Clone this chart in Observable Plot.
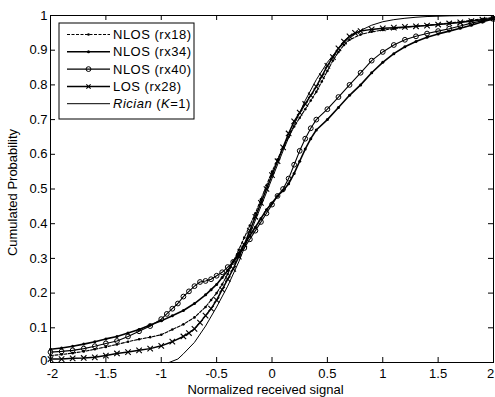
<!DOCTYPE html>
<html>
<head>
<meta charset="utf-8">
<script src="https://cdn.jsdelivr.net/npm/d3@7"></script>
<script src="https://cdn.jsdelivr.net/npm/@observablehq/plot@0.6"></script>
<style>
  html, body { margin: 0; padding: 0; background: #fff; }
  #chart { width: 495px; height: 397px; }
  svg { font-family: "Liberation Sans", Arial, sans-serif; }
</style>
</head>
<body>
<div id="chart"></div>
<script>
// ---- data ----
const xTicks = [-2, -1.5, -1, -0.5, 0, 0.5, 1, 1.5, 2];
const yTicks = [0, 0.1, 0.2, 0.3, 0.4, 0.5, 0.6, 0.7, 0.8, 0.9, 1];
const seriesNames = ["NLOS (rx18)", "NLOS (rx34)", "NLOS (rx40)", "LOS (rx28)", "Rician (K=1)"];

const rx18X = [-2,-1.9,-1.8,-1.7,-1.6,-1.5,-1.4,-1.3,-1.2,-1.1,-1.0,-0.9,-0.8,-0.7,-0.6,-0.55,-0.5,-0.45,-0.4,-0.35,-0.3,-0.25,-0.2,-0.15,-0.1,-0.05,0,0.05,0.1,0.15,0.2,0.25,0.3,0.35,0.4,0.45,0.5,0.55,0.6,0.65,0.7,0.8,0.9,1.0,1.1,1.2,1.4,1.6,1.8,2.0];
const rx18P = [0.02,0.023,0.027,0.032,0.038,0.045,0.052,0.06,0.067,0.073,0.08,0.095,0.11,0.13,0.16,0.18,0.2,0.225,0.255,0.29,0.325,0.36,0.395,0.43,0.47,0.51,0.55,0.585,0.62,0.65,0.68,0.705,0.73,0.755,0.78,0.81,0.84,0.87,0.895,0.915,0.93,0.945,0.953,0.958,0.962,0.966,0.972,0.978,0.986,0.995];

const rx34X = [-2,-1.9,-1.8,-1.7,-1.6,-1.5,-1.4,-1.3,-1.2,-1.1,-1.0,-0.9,-0.8,-0.7,-0.6,-0.55,-0.5,-0.45,-0.4,-0.35,-0.3,-0.25,-0.2,-0.15,-0.1,-0.05,0,0.05,0.1,0.15,0.2,0.25,0.3,0.35,0.4,0.5,0.6,0.7,0.8,0.9,1.0,1.1,1.2,1.3,1.4,1.5,1.6,1.7,1.8,1.9,2.0];
const rx34P = [0.038,0.042,0.047,0.053,0.06,0.068,0.075,0.085,0.095,0.108,0.12,0.135,0.15,0.17,0.195,0.21,0.225,0.245,0.265,0.29,0.315,0.34,0.365,0.39,0.415,0.44,0.46,0.48,0.495,0.515,0.545,0.58,0.615,0.645,0.67,0.70,0.735,0.77,0.80,0.835,0.865,0.89,0.91,0.925,0.937,0.947,0.955,0.963,0.972,0.982,0.99];

const rx40X = [-2,-1.9,-1.8,-1.7,-1.6,-1.5,-1.4,-1.3,-1.2,-1.1,-1.0,-0.95,-0.9,-0.85,-0.8,-0.75,-0.7,-0.65,-0.6,-0.55,-0.5,-0.45,-0.4,-0.35,-0.3,-0.25,-0.2,-0.15,-0.1,-0.05,0,0.05,0.1,0.15,0.2,0.25,0.3,0.35,0.4,0.5,0.6,0.7,0.8,0.9,1.0,1.1,1.2,1.3,1.4,1.5,1.6,1.7,1.8,1.9,2.0];
const rx40P = [0.03,0.032,0.035,0.04,0.047,0.055,0.062,0.075,0.09,0.105,0.125,0.14,0.155,0.17,0.19,0.205,0.22,0.232,0.235,0.24,0.25,0.26,0.275,0.29,0.31,0.33,0.355,0.38,0.405,0.43,0.455,0.48,0.5,0.53,0.57,0.61,0.645,0.675,0.70,0.73,0.765,0.80,0.835,0.87,0.895,0.915,0.93,0.94,0.948,0.955,0.962,0.97,0.978,0.985,0.99];

const losX = [-2,-1.9,-1.8,-1.7,-1.6,-1.5,-1.4,-1.3,-1.2,-1.1,-1.0,-0.9,-0.8,-0.75,-0.7,-0.65,-0.6,-0.55,-0.5,-0.45,-0.4,-0.35,-0.3,-0.25,-0.2,-0.15,-0.1,-0.05,0,0.05,0.1,0.15,0.2,0.25,0.3,0.35,0.4,0.45,0.5,0.55,0.6,0.65,0.7,0.75,0.8,0.9,1.0,1.1,1.2,1.3,1.4,1.5,1.6,1.7,1.8,1.9,2.0];
const losP = [0.01,0.01,0.012,0.013,0.015,0.02,0.026,0.03,0.035,0.04,0.048,0.06,0.075,0.085,0.097,0.115,0.135,0.155,0.18,0.21,0.24,0.27,0.305,0.34,0.38,0.42,0.46,0.5,0.54,0.58,0.62,0.66,0.695,0.72,0.745,0.77,0.795,0.825,0.855,0.88,0.905,0.925,0.94,0.95,0.955,0.96,0.963,0.965,0.967,0.969,0.971,0.974,0.977,0.98,0.984,0.988,0.992];

const ricianX = [-0.93,-0.85,-0.8,-0.7,-0.6,-0.5,-0.4,-0.3,-0.2,-0.1,0,0.1,0.2,0.3,0.4,0.5,0.6,0.7,0.8,0.9,1.0,1.1,1.2,1.3,1.4,1.5,1.6,1.8,2.0];
const ricianP = [0,0.01,0.025,0.058,0.105,0.16,0.22,0.29,0.37,0.45,0.53,0.61,0.685,0.755,0.815,0.865,0.905,0.935,0.957,0.972,0.982,0.988,0.992,0.995,0.997,0.998,0.999,1,1];

const toRows = (xs, ps) => xs.map((x, i) => ({x, p: ps[i]}));
const rx18 = toRows(rx18X, rx18P);
const rx34 = toRows(rx34X, rx34P);
const rx40 = toRows(rx40X, rx40P);
const los = toRows(losX, losP);
const rician = toRows(ricianX, ricianP);

const W = 495, H = 397, mL = 50, mR = 2, mT = 15, mB = 35;
const innerW = W - mL - mR, innerH = H - mT - mB;
const tickLen = 5;
const FS = 13;

const styles = [
  {line: {strokeWidth: 1.1, strokeDasharray: "3,1.5"}, dot: {symbol: "circle", r: 1.3, fill: "black", stroke: "none"}},
  {line: {strokeWidth: 1.6}, dot: {symbol: "circle", r: 1.5, fill: "black", stroke: "none"}},
  {line: {strokeWidth: 1.1}, dot: {symbol: "circle", r: 2.4, fill: "none", stroke: "black", strokeWidth: 1}},
  {line: {strokeWidth: 1.5}, dot: {symbol: "times", r: 2.6, fill: "none", stroke: "black", strokeWidth: 1.1}},
  {line: {strokeWidth: 1}, dot: null}
];
const datasets = [rx18, rx34, rx40, los, rician];

const xTickFirst = xTicks.slice(0, 1);
const xTicksMid = xTicks.slice(1, -1);
const xTickLast = xTicks.slice(-1);
const yTickFirst = yTicks.slice(0, 1);
const yTicksRest = yTicks.slice(1);
const fmt = d => String(d);

const marks = [
  Plot.frame({stroke: "black", strokeWidth: 1}),
  Plot.tickX(xTicks, {x: d => d, insetTop: innerH - tickLen, stroke: "black"}),
  Plot.tickX(xTicks, {x: d => d, insetBottom: innerH - tickLen, stroke: "black"}),
  Plot.tickY(yTicks, {y: d => d, insetRight: innerW - tickLen, stroke: "black"}),
  Plot.tickY(yTicks, {y: d => d, insetLeft: innerW - tickLen, stroke: "black"}),
  Plot.axisX(xTickFirst, {tickSize: 0, tickPadding: 6, fontSize: FS, dx: 2, tickFormat: fmt, label: null}),
  Plot.axisX(xTicksMid, {tickSize: 0, tickPadding: 6, fontSize: FS, tickFormat: fmt, label: null}),
  Plot.axisX(xTickLast, {tickSize: 0, tickPadding: 6, fontSize: FS, dx: -3, tickFormat: fmt, label: null}),
  Plot.axisY(yTickFirst, {tickSize: 0, tickPadding: 3, fontSize: FS, dy: -2, tickFormat: fmt, label: null}),
  Plot.axisY(yTicksRest, {tickSize: 0, tickPadding: 3, fontSize: FS, tickFormat: fmt, label: null})
];
datasets.forEach((data, i) => {
  marks.push(Plot.line(data, {x: "x", y: "p", stroke: "black", ...styles[i].line}));
  if (styles[i].dot) marks.push(Plot.dot(data, {x: "x", y: "p", ...styles[i].dot}));
});

const chart = Plot.plot({
  width: W, height: H,
  marginLeft: mL, marginRight: mR, marginTop: mT, marginBottom: mB,
  x: {domain: [-2, 2]},
  y: {domain: [0, 1]},
  style: {fontFamily: '"Liberation Sans", Arial, sans-serif', fontSize: FS + "px", color: "black", background: "white"},
  marks
});
document.getElementById("chart").appendChild(chart);

// axis titles and legend
const svg = d3.select(chart);
svg.append("text")
  .attr("x", mL + innerW / 2 - 6).attr("y", 394)
  .attr("text-anchor", "middle").attr("font-size", FS).attr("fill", "black")
  .text("Normalized received signal");
svg.append("text")
  .attr("transform", `translate(12,${mT + innerH / 2 + 4}) rotate(-90)`)
  .attr("text-anchor", "middle").attr("dominant-baseline", "central")
  .attr("font-size", FS).attr("fill", "black")
  .text("Cumulated Probability");

const lg = svg.append("g").attr("transform", "translate(59,23)").attr("text-anchor", "start");
lg.append("rect").attr("width", 135).attr("height", 96)
  .attr("fill", "white").attr("stroke", "black").attr("stroke-width", 1);
seriesNames.forEach((name, i) => {
  const y = 11.5 + i * 17.3;
  const st = styles[i];
  lg.append("line").attr("x1", 8).attr("x2", 51).attr("y1", y).attr("y2", y)
    .attr("stroke", "black").attr("stroke-width", st.line.strokeWidth)
    .attr("stroke-dasharray", st.line.strokeDasharray || null);
  if (st.dot) {
    const type = st.dot.symbol === "times" ? d3.symbolTimes : d3.symbolCircle;
    const r = st.dot.r;
    const size = st.dot.symbol === "times" ? (r * r * 2) : Math.PI * r * r;
    lg.append("path").attr("d", d3.symbol(type, size)())
      .attr("transform", `translate(29.5,${y})`)
      .attr("fill", st.dot.fill).attr("stroke", st.dot.stroke)
      .attr("stroke-width", st.dot.strokeWidth || 1);
  }
  const t = lg.append("text").attr("x", 54).attr("y", y).attr("dy", "0.36em")
    .attr("text-anchor", "start").attr("font-size", FS).attr("letter-spacing", 0.5)
    .attr("fill", "black");
  if (i === 4) {
    t.append("tspan").attr("font-style", "italic").text("Rician");
    t.append("tspan").text(" (");
    t.append("tspan").attr("font-style", "italic").text("K");
    t.append("tspan").text("=1)");
  } else {
    t.text(name);
  }
});
</script>
</body>
</html>
